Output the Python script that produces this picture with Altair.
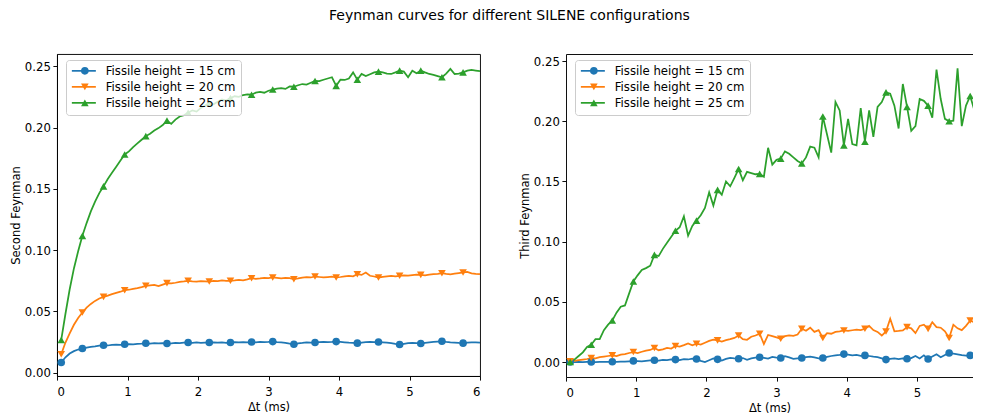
import altair as alt
import pandas as pd

# sampling grid of the time gate (ms)
dt = [round(0.06 * i, 2) for i in range(1, 101)]

labels = ["Fissile height = 15 cm", "Fissile height = 20 cm", "Fissile height = 25 cm"]
colors = ["#1f77b4", "#ff7f0e", "#2ca02c"]
shapes = ["circle", "triangle-down", "triangle-up"]
x_ticks_left = [0, 1, 2, 3, 4, 5, 6]
x_ticks_right = [0, 1, 2, 3, 4, 5]
y_ticks = [0.0, 0.05, 0.10, 0.15, 0.20, 0.25]

second_15 = [
    0.0082, 0.0125, 0.0155, 0.0175, 0.0188, 0.0196, 0.0203, 0.0210, 0.0214, 0.0220,
    0.0223, 0.0221, 0.0226, 0.0229, 0.0227, 0.0231, 0.0233, 0.0230, 0.0235, 0.0236,
    0.0239, 0.0237, 0.0240, 0.0238, 0.0241, 0.0237, 0.0239, 0.0242, 0.0240, 0.0244,
    0.0245, 0.0242, 0.0246, 0.0243, 0.0245, 0.0245, 0.0247, 0.0244, 0.0246, 0.0243,
    0.0245, 0.0248, 0.0246, 0.0249, 0.0247, 0.0250, 0.0247, 0.0251, 0.0248, 0.0250,
    0.0253, 0.0249, 0.0246, 0.0243, 0.0236, 0.0231, 0.0238, 0.0242, 0.0247, 0.0244,
    0.0245, 0.0249, 0.0251, 0.0248, 0.0250, 0.0253, 0.0250, 0.0247, 0.0244, 0.0242,
    0.0240, 0.0245, 0.0248, 0.0251, 0.0249, 0.0250, 0.0247, 0.0244, 0.0240, 0.0234,
    0.0229, 0.0235, 0.0240, 0.0243, 0.0240, 0.0237, 0.0242, 0.0246, 0.0250, 0.0253,
    0.0256, 0.0251, 0.0247, 0.0245, 0.0242, 0.0240, 0.0244, 0.0247, 0.0246, 0.0245,
]
second_20 = [
    0.0150, 0.0245, 0.0320, 0.0390, 0.0445, 0.0490, 0.0530, 0.0560, 0.0585, 0.0605,
    0.0618, 0.0628, 0.0640, 0.0650, 0.0660, 0.0672, 0.0676, 0.0683, 0.0690, 0.0698,
    0.0708, 0.0712, 0.0716, 0.0705, 0.0718, 0.0730, 0.0728, 0.0733, 0.0740, 0.0744,
    0.0749, 0.0745, 0.0742, 0.0747, 0.0745, 0.0743, 0.0748, 0.0746, 0.0752, 0.0748,
    0.0749, 0.0752, 0.0756, 0.0753, 0.0760, 0.0770, 0.0765, 0.0768, 0.0772, 0.0770,
    0.0776, 0.0772, 0.0768, 0.0773, 0.0770, 0.0762, 0.0768, 0.0775, 0.0778, 0.0776,
    0.0784, 0.0780, 0.0776, 0.0779, 0.0782, 0.0776, 0.0780, 0.0785, 0.0789, 0.0786,
    0.0803, 0.0797, 0.0816, 0.0790, 0.0784, 0.0776, 0.0781, 0.0786, 0.0789, 0.0786,
    0.0790, 0.0794, 0.0792, 0.0796, 0.0800, 0.0797, 0.0794, 0.0799, 0.0803, 0.0806,
    0.0811, 0.0806, 0.0802, 0.0807, 0.0812, 0.0817, 0.0822, 0.0810, 0.0806, 0.0803,
]
second_25 = [
    0.0266, 0.0480, 0.0680, 0.0850, 0.0990, 0.1116, 0.1220, 0.1315, 0.1395, 0.1465,
    0.1520, 0.1580, 0.1630, 0.1680, 0.1730, 0.1780, 0.1805, 0.1840, 0.1870, 0.1900,
    0.1930, 0.1950, 0.1975, 0.1995, 0.2020, 0.2056, 0.2030, 0.2065, 0.2090, 0.2100,
    0.2120, 0.2140, 0.2130, 0.2160, 0.2180, 0.2200, 0.2190, 0.2210, 0.2230, 0.2220,
    0.2240, 0.2255, 0.2250, 0.2265, 0.2270, 0.2268, 0.2285, 0.2290, 0.2284, 0.2300,
    0.2310, 0.2318, 0.2322, 0.2315, 0.2335, 0.2333, 0.2345, 0.2355, 0.2350, 0.2365,
    0.2380, 0.2378, 0.2390, 0.2400, 0.2410, 0.2340, 0.2390, 0.2388, 0.2400, 0.2450,
    0.2390, 0.2437, 0.2420, 0.2435, 0.2450, 0.2456, 0.2450, 0.2440, 0.2437, 0.2450,
    0.2464, 0.2456, 0.2410, 0.2464, 0.2443, 0.2464, 0.2450, 0.2437, 0.2430, 0.2420,
    0.2410, 0.2440, 0.2478, 0.2437, 0.2440, 0.2450, 0.2464, 0.2470, 0.2465, 0.2460,
]

third_15 = [
    0.0000, 0.0000, 0.0001, 0.0000, 0.0001, 0.0001, 0.0000, 0.0002, 0.0001, 0.0002,
    0.0002, 0.0001, 0.0004, 0.0003, 0.0006, 0.0009, 0.0007, 0.0005, 0.0010, 0.0013,
    0.0015, 0.0012, 0.0018, 0.0015, 0.0022, 0.0020, 0.0016, 0.0024, 0.0021, 0.0028,
    0.0025, 0.0010, 0.0000, 0.0015, 0.0030, 0.0022, 0.0012, 0.0026, 0.0035, 0.0030,
    0.0027, 0.0033, 0.0018, 0.0030, 0.0036, 0.0040, 0.0034, 0.0028, 0.0042, 0.0036,
    0.0033, 0.0048, 0.0038, 0.0026, 0.0030, 0.0033, 0.0040, 0.0045, 0.0038, 0.0030,
    0.0033, 0.0042, 0.0050, 0.0055, 0.0060, 0.0066, 0.0062, 0.0056, 0.0060, 0.0052,
    0.0055, 0.0050, 0.0044, 0.0040, 0.0030, 0.0020, 0.0026, 0.0030, 0.0024, 0.0030,
    0.0027, 0.0033, 0.0050, 0.0030, 0.0055, 0.0025, 0.0045, 0.0065, 0.0040, 0.0058,
    0.0075, 0.0070, 0.0064, 0.0058, 0.0054, 0.0055, 0.0050, 0.0030, 0.0005, 0.0000,
]
third_20 = [
    0.0005, 0.0010, 0.0015, 0.0020, 0.0025, 0.0033, 0.0030, 0.0040, 0.0045, 0.0050,
    0.0055, 0.0050, 0.0062, 0.0066, 0.0075, 0.0083, 0.0075, 0.0085, 0.0095, 0.0100,
    0.0116, 0.0098, 0.0105, 0.0118, 0.0112, 0.0133, 0.0128, 0.0140, 0.0155, 0.0138,
    0.0152, 0.0145, 0.0160, 0.0175, 0.0185, 0.0180, 0.0170, 0.0182, 0.0190, 0.0200,
    0.0220, 0.0190, 0.0185, 0.0210, 0.0220, 0.0235, 0.0150, 0.0225, 0.0215, 0.0205,
    0.0193, 0.0215, 0.0222, 0.0218, 0.0228, 0.0276, 0.0260, 0.0285, 0.0250, 0.0265,
    0.0200, 0.0240, 0.0235, 0.0250, 0.0255, 0.0262, 0.0258, 0.0264, 0.0270, 0.0265,
    0.0276, 0.0300, 0.0265, 0.0250, 0.0220, 0.0254, 0.0360, 0.0255, 0.0258, 0.0262,
    0.0290, 0.0280, 0.0240, 0.0300, 0.0310, 0.0275, 0.0330, 0.0290, 0.0285, 0.0255,
    0.0200, 0.0310, 0.0280, 0.0265, 0.0300, 0.0345, 0.0330, 0.0300, 0.0270, 0.0260,
]
third_25 = [
    0.0000, 0.0020, 0.0050, 0.0080, 0.0125, 0.0144, 0.0190, 0.0190, 0.0265, 0.0310,
    0.0345, 0.0410, 0.0460, 0.0470, 0.0570, 0.0669, 0.0720, 0.0765, 0.0780, 0.0800,
    0.0890, 0.0880, 0.0940, 0.0990, 0.1040, 0.1090, 0.1120, 0.1210, 0.1050, 0.1130,
    0.1175, 0.1220, 0.1280, 0.1410, 0.1300, 0.1430, 0.1390, 0.1500, 0.1460, 0.1530,
    0.1604, 0.1510, 0.1580, 0.1570, 0.1560, 0.1563, 0.1540, 0.1780, 0.1640, 0.1680,
    0.1690, 0.1750, 0.1730, 0.1700, 0.1670, 0.1650, 0.1700, 0.1790, 0.1780, 0.1700,
    0.2040, 0.1890, 0.1740, 0.2160, 0.2090, 0.1800, 0.2020, 0.1810, 0.1800, 0.2110,
    0.1830, 0.2090, 0.1870, 0.2120, 0.2160, 0.2240, 0.2230, 0.2130, 0.1940, 0.2310,
    0.2120, 0.1920, 0.1960, 0.2185, 0.2170, 0.2130, 0.2030, 0.2430, 0.2185, 0.2020,
    0.2000, 0.2005, 0.2440, 0.1960, 0.2130, 0.2210, 0.2090, 0.1860, 0.1950, 0.2000,
]

FONT = "DejaVu Sans"


def build_frame(series_values):
    rows = []
    for lab, vals in zip(labels, series_values):
        for i, (x, y) in enumerate(zip(dt, vals)):
            rows.append({"dt": x, "value": y, "series": lab, "label": lab,
                         "marker": i % 5 == 0})
    return pd.DataFrame(rows)


def panel(df, ytitle, xmax, ydom, width, height, xticks, ytitlepad, top_spine):
    common = dict(orient="none", legendX=9, legendY=6, title=None,
                  labelFont=FONT, labelFontSize=11.7, padding=5, rowPadding=3)
    x = alt.X("dt:Q", scale=alt.Scale(domain=[0, xmax], nice=False, zero=False),
              axis=alt.Axis(title="Δt (ms)", values=xticks, format="d"))
    y = alt.Y("value:Q", scale=alt.Scale(domain=ydom, nice=False, zero=False),
              axis=alt.Axis(title=ytitle, values=y_ticks, format=".2f",
                            titlePadding=ytitlepad))
    # legend of the lines (line handle + text), drawn with a frame
    line_legend = alt.Legend(symbolType="M-3,0H3", symbolSize=64,
                             symbolStrokeWidth=1.75, symbolOffset=7, labelOffset=16,
                             labelColor="black", fillColor="rgba(255,255,255,0.8)",
                             strokeColor="#cccccc", cornerRadius=3, **common)
    # legend of the markers, laid exactly over the line handles
    marker_legend = alt.Legend(symbolSize=58, symbolOffset=8, labelOffset=16,
                               labelExpr="' '", **common)
    lines = alt.Chart(df).mark_line(strokeWidth=1.75, clip=True).encode(
        x=x, y=y,
        stroke=alt.Stroke("series:N", scale=alt.Scale(range=colors),
                          legend=line_legend),
    )
    if top_spine:
        xp = alt.X("dt:Q", axis=alt.Axis(orient="top", labels=False, ticks=False,
                                         title=None, domain=True))
    else:
        xp = alt.X("dt:Q")
    points = alt.Chart(df).transform_filter("datum.marker").mark_point(
        filled=True, size=58, opacity=1, clip=True).encode(
        x=xp, y=alt.Y("value:Q"),
        color=alt.Color("label:N", scale=alt.Scale(range=colors),
                        legend=marker_legend),
        shape=alt.Shape("label:N", scale=alt.Scale(range=shapes),
                        legend=marker_legend),
    )
    layered = alt.layer(lines, points).properties(width=width, height=height)
    if top_spine:
        layered = layered.resolve_axis(x="independent").properties(
            view=alt.ViewBackground(stroke=None))
    return layered


left = panel(build_frame([second_15, second_20, second_25]), "Second Feynman",
             6, [-0.0028, 0.2600], 423, 322, x_ticks_left, 3, False)
right = panel(build_frame([third_15, third_20, third_25]), "Third Feynman",
              5.80, [-0.01245, 0.2559], 407, 323, x_ticks_right, 3, True)

chart = alt.hconcat(left, right, spacing=38).resolve_scale(
    color="independent", stroke="independent", shape="independent"
).resolve_legend(
    color="independent", stroke="independent", shape="independent"
).properties(
    title=alt.Title("Feynman curves for different SILENE configurations",
                    font=FONT, fontSize=14, fontWeight="normal", color="black",
                    anchor="middle", dx=18, offset=31),
    padding={"left": 1, "top": 0, "right": 0, "bottom": 0},
).configure_view(
    stroke="black", strokeWidth=0.94
).configure_axis(
    grid=False, domainColor="black", domainWidth=0.94, tickColor="black",
    tickWidth=0.94, tickSize=4.1, labelPadding=2.5, labelFont=FONT,
    labelFontSize=11.7, labelColor="black", titleFont=FONT, titleFontSize=11.5,
    titleFontWeight="normal", titleColor="black",
).configure_axisX(titlePadding=4, labelPadding=6)

chart.save("out.html", embed_options={"renderer": "svg", "actions": False})
